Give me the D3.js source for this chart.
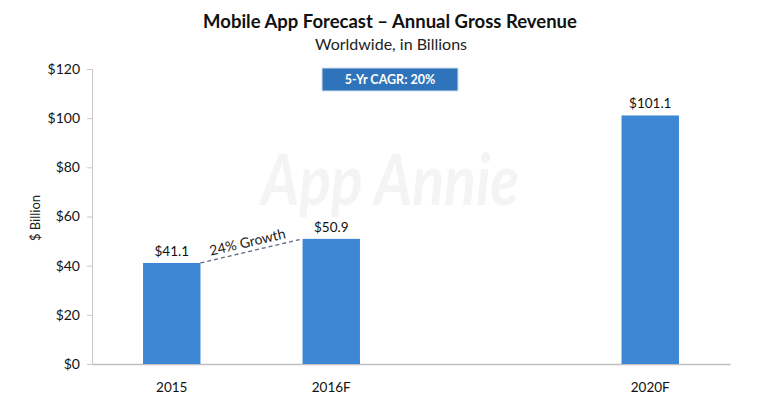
<!DOCTYPE html>
<html><head><meta charset="utf-8">
<script src="https://cdn.jsdelivr.net/npm/d3@7"></script>
<style>
html,body{margin:0;padding:0;background:#fff;}
svg{display:block;font-family:Lato,"Open Sans",sans-serif;}
</style></head>
<body>
<svg id="chart" width="768" height="409"></svg>
<script>
// Data
const slots = ["2015", "2016F", "", "2020F"];   // "" = empty slot on the axis
const categories = ["2015", "2016F", "2020F"];
const revenue = [41.1, 50.9, 101.1];
const valueLabels = ["$41.1", "$50.9", "$101.1"];
const yTicks = [0, 20, 40, 60, 80, 100, 120];
const growthLabel = "24% Growth";
const cagrLabel = "5-Yr CAGR: 20%";

const svg = d3.select("#chart");
const x = d3.scaleBand().domain(slots).range([92, 730]).padding(0);
const y = d3.scaleLinear().domain([0, 120]).range([364, 69]);
const barW = x.bandwidth() * 0.36;
const cx = c => x(c) + x.bandwidth() / 2;

// watermark
svg.append("text").attr("x", 390).attr("y", 205).attr("text-anchor", "middle")
  .attr("font-size", 70).attr("font-style", "italic").attr("font-weight", 700)
  .attr("fill", "#f4f4f4").attr("textLength", 258).attr("lengthAdjust", "spacingAndGlyphs")
  .text("App Annie");

// title
svg.append("text").attr("x", 390).attr("y", 28).attr("text-anchor", "middle")
  .attr("font-size", 18.5).attr("font-weight", 700).attr("fill", "#111")
  .text("Mobile App Forecast \u2013 Annual Gross Revenue");
svg.append("text").attr("x", 391).attr("y", 50).attr("text-anchor", "middle")
  .attr("font-size", 16).attr("fill", "#222")
  .text("Worldwide, in Billions");

// y axis
const yAxis = svg.append("g").attr("transform", "translate(92,0)")
  .call(d3.axisLeft(y).tickValues(yTicks).tickFormat(d => "$" + d).tickSize(5).tickPadding(7));
yAxis.select(".domain").attr("stroke", "#c8c8c8");
yAxis.selectAll(".tick line").attr("stroke", "#c8c8c8");
yAxis.selectAll(".tick text").attr("font-size", 14).attr("fill", "#111")
  .attr("font-family", "Lato,'Open Sans',sans-serif");

svg.append("text").attr("transform", "translate(40,218) rotate(-90)")
  .attr("text-anchor", "middle").attr("font-size", 13).attr("fill", "#222")
  .text("$ Billion");

// x axis
const xAxis = svg.append("g").attr("transform", "translate(0,364)")
  .call(d3.axisBottom(x).tickValues(categories).tickSize(0).tickPadding(18));
xAxis.select(".domain").attr("stroke", "#c0c0c0").attr("stroke-width", 1.5);
xAxis.selectAll(".tick text").attr("font-size", 13.5).attr("fill", "#111")
  .attr("font-family", "Lato,'Open Sans',sans-serif");

// bars
svg.append("g").selectAll("rect").data(categories).join("rect")
  .attr("x", (c) => cx(c) - barW / 2)
  .attr("y", (c, i) => y(revenue[i]))
  .attr("width", barW)
  .attr("height", (c, i) => y(0) - y(revenue[i]))
  .attr("fill", "#3d87d4");

svg.append("g").selectAll("text").data(categories).join("text")
  .attr("x", c => cx(c))
  .attr("y", (c, i) => y(revenue[i]) - 7)
  .attr("text-anchor", "middle").attr("font-size", 13.5).attr("fill", "#111")
  .text((c, i) => valueLabels[i]);

// growth line
const x1 = cx(categories[0]) + barW / 2, y1 = y(revenue[0]);
const x2 = cx(categories[1]) - barW / 2, y2 = y(revenue[1]);
svg.append("line").attr("x1", x1).attr("y1", y1).attr("x2", x2).attr("y2", y2)
  .attr("stroke", "#5b6b82").attr("stroke-width", 1.3).attr("stroke-dasharray", "4,3");
const ang = Math.atan2(y2 - y1, x2 - x1) * 180 / Math.PI;
svg.append("text")
  .attr("transform", `translate(${(x1 + x2) / 2 - 3},${(y1 + y2) / 2 - 4}) rotate(${ang})`)
  .attr("text-anchor", "middle").attr("font-size", 14).attr("fill", "#222")
  .text(growthLabel);

// CAGR box
svg.append("rect").attr("x", 322).attr("y", 68).attr("width", 136).attr("height", 23)
  .attr("fill", "#2f74bb").attr("stroke", "#cfe0f2").attr("stroke-width", 1);
svg.append("text").attr("x", 390).attr("y", 84).attr("text-anchor", "middle")
  .attr("font-size", 12.5).attr("font-weight", 700).attr("fill", "#fff")
  .text(cagrLabel);
</script>
</body></html>
